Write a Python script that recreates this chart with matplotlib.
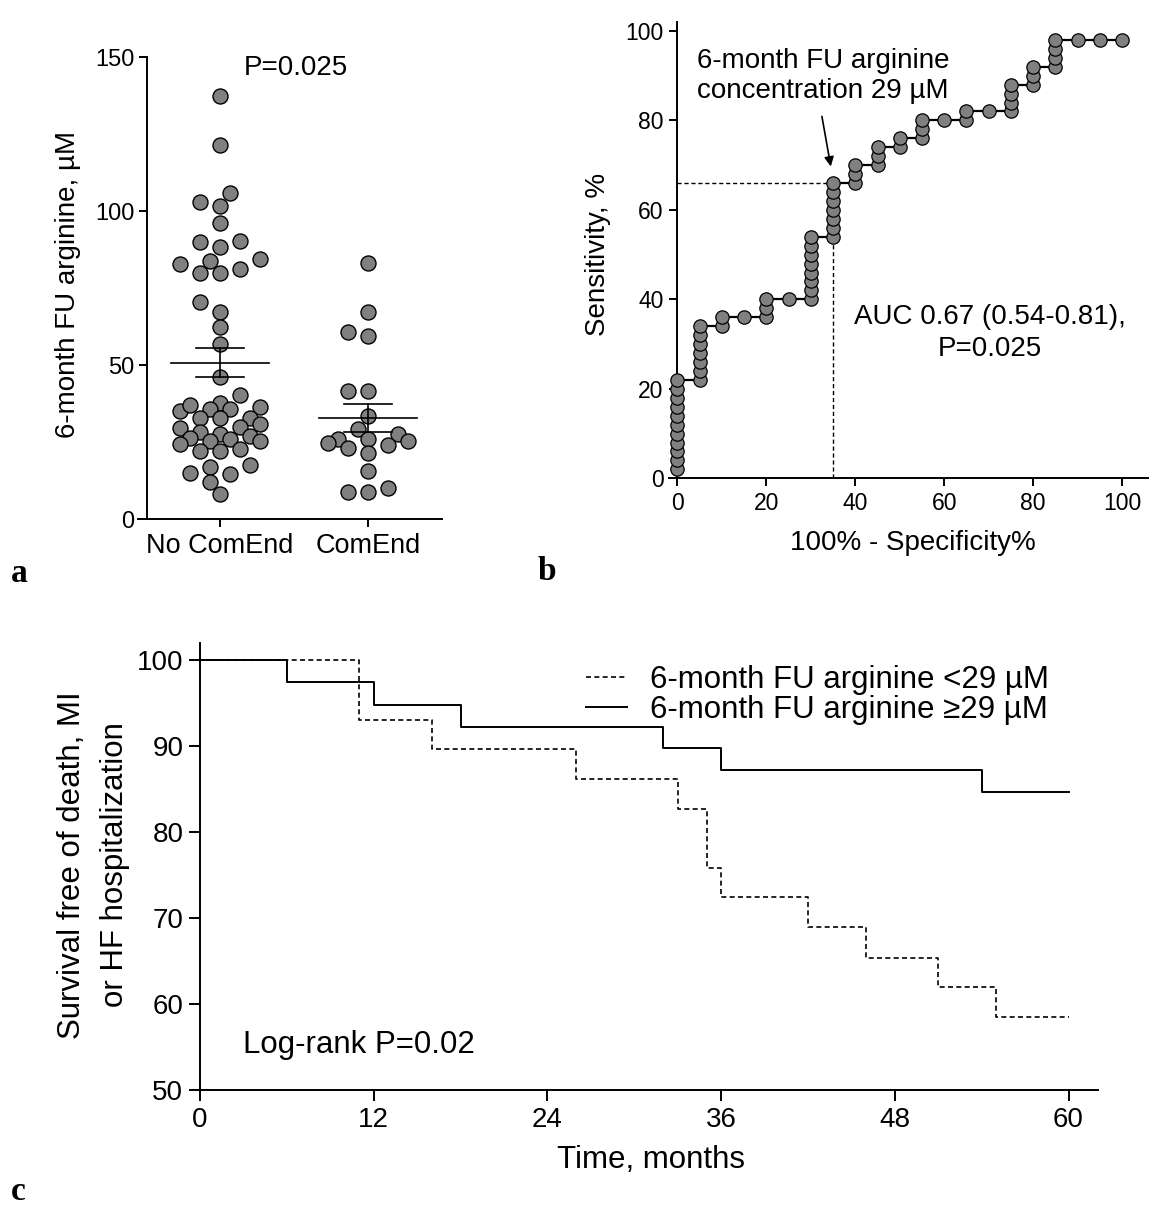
import numpy as np
import matplotlib
matplotlib.use('Agg')
import matplotlib.pyplot as plt

plt.rcParams['font.family'] = ['Liberation Sans', 'DejaVu Sans']

# ---------------- data ----------------
# panel a: 6-month FU arginine (uM)
groups = ['No ComEnd', 'ComEnd']
no_comend = [137.3, 121.4, 105.9, 102.9, 101.7, 96.1, 89.8, 88.4, 90.3, 83.7,
             84.4, 82.8, 81.3, 79.8, 80.0, 70.5, 67.1, 62.2, 56.8, 46.2,
             40.3, 37.8, 35.6, 36.3, 35.2, 36.9, 35.6, 32.9, 32.9, 32.9,
             30.9, 29.8, 29.4, 28.2, 27.6, 26.9, 25.3, 25.9, 25.3, 26.4,
             24.4, 22.6, 22.1, 22.1, 17.0, 17.4, 14.5, 14.8, 11.9, 8.1]
comend = [83.0, 67.1, 60.7, 59.4, 41.5, 41.5, 33.4, 29.1, 27.5, 25.9,
          25.9, 25.3, 24.6, 24.0, 23.0, 21.3, 15.7, 10.2, 8.8, 8.8]

# panel b: ROC curve
roc_fpr = [0]*11 + [5]*7 + [10]*2 + [15] + [20]*3 + [25] + [30]*8 + [35]*7 + \
          [40]*3 + [45]*3 + [50]*2 + [55]*3 + [60] + [65]*2 + [70] + [75]*4 + \
          [80]*3 + [85]*4 + [90] + [95] + [100]
roc_sens = [2, 4, 6, 8, 10, 12, 14, 16, 18, 20, 22,
            22, 24, 26, 28, 30, 32, 34,
            34, 36,
            36,
            36, 38, 40,
            40,
            40, 42, 44, 46, 48, 50, 52, 54,
            54, 56, 58, 60, 62, 64, 66,
            66, 68, 70,
            70, 72, 74,
            74, 76,
            76, 78, 80,
            80,
            80, 82,
            82,
            82, 84, 86, 88,
            88, 90, 92,
            92, 94, 96, 98,
            98, 98, 98]
cutoff_fpr = 35
cutoff_sens = 66

# panel c: Kaplan-Meier
km_low_t = [0, 11, 16, 26, 33, 35, 36, 42, 46, 51, 55, 60]
km_low_s = [100, 93.0, 89.6, 86.2, 82.7, 75.8, 72.4, 68.9, 65.4, 62.0, 58.5, 58.5]
km_high_t = [0, 6, 12, 18, 32, 36, 54, 60]
km_high_s = [100, 97.4, 94.8, 92.2, 89.7, 87.2, 84.6, 84.6]

W, H = 1160, 1211
fig = plt.figure(figsize=(W/100, H/100), dpi=100)

def box(x0, y0, x1, y1):
    return [x0/W, 1 - y1/H, (x1-x0)/W, (y1-y0)/H]

GRAY = '#808080'

# ---------------- panel a ----------------
axa = fig.add_axes(box(138, 57, 442, 519))
axa.set_xlim(-0.554, 1.5)
axa.set_ylim(0, 150)
for s in ['top', 'right']:
    axa.spines[s].set_visible(False)
axa.spines['left'].set_position(('data', -0.493))
for s in ['left', 'bottom']:
    axa.spines[s].set_linewidth(1.4)

def swarm(ax, values, step_px=10.0, dmin_px=15.0, kmax=4):
    vals = np.asarray(values, float)
    ypx = np.array([ax.transData.transform((0, v))[1] for v in vals])
    xunit = ax.transData.transform((1, 0))[0] - ax.transData.transform((0, 0))[0]
    order = np.argsort(vals)
    placed = []
    offs = np.zeros(len(vals))
    ks = [0]
    for k in range(1, kmax + 1):
        ks += [-k, k]
    for i in order:
        y = ypx[i]
        best, best_d = 0.0, -1.0
        for k in ks:
            x = k * step_px
            d = min([np.hypot(x-px, y-py) for px, py in placed], default=1e9)
            if d >= dmin_px:
                best = x
                break
            if d > best_d + 0.5:
                best, best_d = x, d
        placed.append((best, y))
        offs[i] = best / xunit
    return offs

for gi, vals in enumerate([no_comend, comend]):
    offs = swarm(axa, vals)
    axa.plot(gi + offs, vals, 'o', ms=10.8, mfc=GRAY, mec='black', mew=1.0,
             zorder=2, clip_on=False)
    m = np.mean(vals)
    sem = np.std(vals, ddof=1) / np.sqrt(len(vals))
    axa.plot([gi-0.33, gi+0.33], [m, m], color='black', lw=1.2, zorder=3)
    axa.plot([gi-0.165, gi+0.165], [m+sem, m+sem], color='black', lw=1.2, zorder=3)
    axa.plot([gi-0.165, gi+0.165], [m-sem, m-sem], color='black', lw=1.2, zorder=3)
    axa.plot([gi, gi], [m-sem, m+sem], color='black', lw=1.2, zorder=3)

axa.set_xticks([0, 1])
axa.set_xticklabels(groups, fontsize=19.5)
axa.set_yticks([0, 50, 100, 150])
axa.tick_params(axis='y', labelsize=17, length=6, width=1.4, pad=3)
axa.tick_params(axis='x', length=6, width=1.4, pad=4)
axa.text(0.51, 146.4, 'P=0.025', ha='center', va='center', fontsize=20)

# ---------------- panel b ----------------
axb = fig.add_axes(box(669, 22, 1148, 478.3))
axb.set_xlim(-1.87, 105.8)
axb.set_ylim(0, 102)
for s in ['top', 'right']:
    axb.spines[s].set_visible(False)
axb.spines['left'].set_position(('data', 0))
for s in ['left', 'bottom']:
    axb.spines[s].set_linewidth(1.4)
axb.plot(roc_fpr, roc_sens, '-', color='black', lw=1.6, zorder=2, clip_on=False)
axb.plot(roc_fpr, roc_sens, 'o', ms=9.6, mfc=GRAY, mec='black', mew=0.9,
         zorder=3, clip_on=False)
axb.plot([0, cutoff_fpr], [cutoff_sens, cutoff_sens], color='black', lw=1.0,
         ls=(0, (3, 2)), zorder=1)
axb.plot([cutoff_fpr, cutoff_fpr], [0, cutoff_sens - 12], color='black', lw=1.0,
         ls=(0, (3, 2)), zorder=1)
axb.set_xticks([0, 20, 40, 60, 80, 100])
axb.set_yticks([0, 20, 40, 60, 80, 100])
axb.tick_params(labelsize=16.5, length=6, width=1.4, pad=4)
axb.annotate('', xy=(34.5, 69.7), xytext=(32.5, 80.9),
             arrowprops=dict(arrowstyle='-|>', color='black', lw=1.2,
                             mutation_scale=14, shrinkA=0, shrinkB=0))
axb.text(4.4, 93.2, '6-month FU arginine', ha='left', va='center', fontsize=20)
axb.text(4.4, 86.6, 'concentration 29 µM', ha='left', va='center', fontsize=20)
axb.text(70.3, 36.1, 'AUC 0.67 (0.54-0.81),', ha='center', va='center', fontsize=20)
axb.text(70.3, 29.0, 'P=0.025', ha='center', va='center', fontsize=20)

# ---------------- panel c ----------------
axc = fig.add_axes(box(200, 642.6, 1097.5, 1090))
axc.set_xlim(0, 62)
axc.set_ylim(50, 102)
for s in ['top', 'right']:
    axc.spines[s].set_visible(False)
for s in ['left', 'bottom']:
    axc.spines[s].set_linewidth(1.4)
axc.step(km_low_t, km_low_s, where='post', color='black', lw=1.2,
         ls=(0, (3, 2)), label='6-month FU arginine <29 µM')
axc.step(km_high_t, km_high_s, where='post', color='black', lw=1.4,
         label='6-month FU arginine ≥29 µM')
axc.set_xticks([0, 12, 24, 36, 48, 60])
axc.set_yticks([50, 60, 70, 80, 90, 100])
axc.tick_params(labelsize=20, length=8, width=1.4, pad=4)
leg = axc.legend(loc='upper left', bbox_to_anchor=(586/W, 1 - 665/H),
                 bbox_transform=fig.transFigure, frameon=False, fontsize=22.5,
                 handlelength=1.3, handletextpad=0.75, labelspacing=0.0,
                 borderpad=0, borderaxespad=0)
axc.text(2.97, 55.2, 'Log-rank P=0.02', ha='left', va='center', fontsize=22.5)

# ---------------- figure texts ----------------
fig.text(68/W, 1-284/H, '6-month FU arginine, µM', rotation=90,
         ha='center', va='center', fontsize=20)
fig.text(598/W, 1-254/H, 'Sensitivity, %', rotation=90,
         ha='center', va='center', fontsize=20)
fig.text(913/W, 1-543/H, '100% - Specificity%', ha='center', va='center', fontsize=20)
fig.text(651/W, 1-1160/H, 'Time, months', ha='center', va='center', fontsize=22.5)
fig.text(72/W, 1-865/H, 'Survival free of death, MI', rotation=90,
         ha='center', va='center', fontsize=22.5)
fig.text(115/W, 1-865/H, 'or HF hospitalization', rotation=90,
         ha='center', va='center', fontsize=22.5)

for lbl, (x, y) in zip(['a', 'b', 'c'], [(19.5, 573), (547, 571), (18, 1192)]):
    fig.text(x/W, 1-y/H, lbl, ha='center', va='center', fontsize=24,
             fontweight='bold', family=['Liberation Serif', 'DejaVu Serif'])

fig.savefig('out.png', dpi=100)
